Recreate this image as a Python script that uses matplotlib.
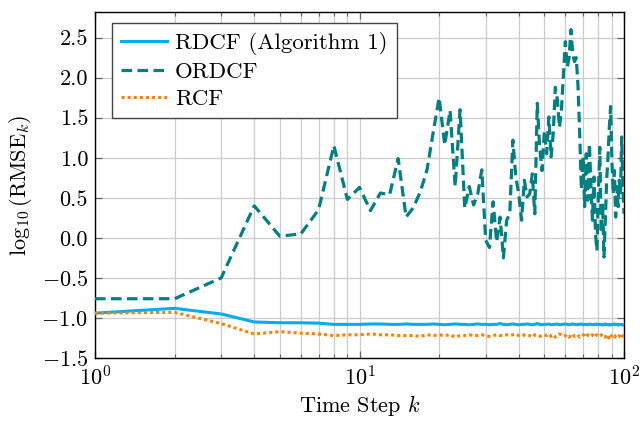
import numpy as np
import matplotlib
matplotlib.use("Agg")
import matplotlib.pyplot as plt

plt.rcParams['font.family'] = ['cmr10', 'DejaVu Serif']
plt.rcParams['mathtext.fontset'] = 'cm'
plt.rcParams['axes.formatter.use_mathtext'] = True
plt.rcParams['axes.unicode_minus'] = True

steps = np.arange(1, 101)

ordcf = [
    -0.76, -0.76, -0.50, 0.40, 0.02, 0.05, 0.35, 1.15, 0.48, 0.63,
    0.34, 0.56, 0.54, 0.99, 0.26, 0.38, 0.58, 0.85, 1.32, 1.75,
    1.16, 1.59, 0.64, 1.60, 0.37, 0.64, 0.41, 0.55, 0.85, -0.03,
    -0.12, 0.45, -0.05, 0.26, -0.25, 0.22, 0.30, 1.22, 0.76, 0.55,
    0.22, 0.72, 0.51, 0.55, 0.80, 0.30, 1.68, 1.13, 0.84, 1.34,
    1.05, 1.51, 1.01, 1.30, 1.88, 1.72, 1.38, 1.60, 2.03, 2.45,
    2.13, 2.25, 2.60, 2.30, 2.20, 2.25, 1.90, 1.30, 0.60, 1.01,
    0.39, 1.05, 0.47, 1.18, 0.64, 0.22, 0.76, 0.06, -0.16, 0.55,
    1.13, 0.06, 0.43, -0.24, 0.22, 0.72, 1.01, 1.38, 1.64, 0.97,
    0.55, 0.84, 0.26, 0.64, 0.39, 0.72, 0.55, 1.26, 0.64, 0.30,
]

rdcf = [
    -0.94, -0.88, -0.95, -1.05, -1.06, -1.06, -1.065, -1.08, -1.08, -1.08,
    -1.075, -1.075, -1.08, -1.08, -1.075, -1.08, -1.08, -1.08, -1.075, -1.08,
    -1.085, -1.08, -1.075, -1.08, -1.08, -1.085, -1.08, -1.075, -1.08, -1.08,
    -1.085, -1.08, -1.08, -1.07, -1.08, -1.085, -1.08, -1.075, -1.08, -1.085,
    -1.08, -1.08, -1.075, -1.08, -1.085, -1.08, -1.07, -1.08, -1.085, -1.08,
    -1.08, -1.075, -1.085, -1.08, -1.08, -1.075, -1.085, -1.08, -1.08, -1.075,
    -1.08, -1.085, -1.08, -1.075, -1.08, -1.085, -1.08, -1.08, -1.075, -1.085,
    -1.08, -1.08, -1.085, -1.075, -1.08, -1.085, -1.08, -1.08, -1.075, -1.085,
    -1.08, -1.08, -1.09, -1.08, -1.075, -1.085, -1.08, -1.09, -1.08, -1.085,
    -1.08, -1.075, -1.085, -1.08, -1.09, -1.08, -1.085, -1.08, -1.09, -1.085,
]

rcf = [
    -0.94, -0.93, -1.07, -1.20, -1.17, -1.19, -1.20, -1.22, -1.21, -1.21,
    -1.20, -1.21, -1.21, -1.22, -1.22, -1.22, -1.23, -1.21, -1.22, -1.21,
    -1.22, -1.21, -1.24, -1.22, -1.22, -1.21, -1.22, -1.22, -1.21, -1.22,
    -1.23, -1.22, -1.21, -1.22, -1.22, -1.21, -1.22, -1.21, -1.20, -1.22,
    -1.23, -1.21, -1.22, -1.22, -1.24, -1.21, -1.22, -1.23, -1.22, -1.21,
    -1.22, -1.20, -1.23, -1.21, -1.24, -1.22, -1.20, -1.21, -1.23, -1.22,
    -1.21, -1.24, -1.22, -1.20, -1.23, -1.22, -1.21, -1.24, -1.22, -1.21,
    -1.22, -1.24, -1.21, -1.23, -1.22, -1.21, -1.24, -1.22, -1.21, -1.23,
    -1.22, -1.21, -1.23, -1.22, -1.24, -1.21, -1.22, -1.27, -1.23, -1.22,
    -1.21, -1.24, -1.22, -1.21, -1.23, -1.22, -1.24, -1.21, -1.23, -1.22,
]

FS = 16
LFS = 16.5

fig = plt.figure(figsize=(6.4, 4.21), dpi=100)
ax = fig.add_axes([95/640, 1-358/421, (624-95)/640, (358-12)/421])

ax.plot(steps, rdcf, color='#00AEEF', lw=2.2, label='RDCF (Algorithm 1)', zorder=3)
ax.plot(steps, ordcf, color='#008080', lw=2.3, ls=(0, (3.3, 1.7)), label='ORDCF', zorder=3)
ax.plot(steps, rcf, color='#FF8000', lw=2.2, ls=(0, (1, 1)), label='RCF', zorder=3)

ax.set_xscale('log')
ax.set_xlim(1, 100)
ax.set_ylim(-1.5, 2.82)
ax.set_yticks([-1.5, -1.0, -0.5, 0.0, 0.5, 1.0, 1.5, 2.0, 2.5])
ax.yaxis.set_major_formatter(matplotlib.ticker.FuncFormatter(
    lambda v, p: ('$-$' if v < 0 else '') + f'{abs(v):.1f}'))

ax.grid(True, which='major', color='#cccccc', lw=0.9, zorder=0)
ax.grid(True, which='minor', axis='x', color='#cccccc', lw=0.9, zorder=0)
ax.set_axisbelow(True)

ax.tick_params(which='both', direction='in', top=True, right=True,
               color='#666666', labelsize=FS, labelcolor='black')
ax.tick_params(which='major', length=5, width=0.9, pad=5)
ax.tick_params(which='minor', length=3, width=0.8)
ax.xaxis.set_minor_formatter(matplotlib.ticker.NullFormatter())

for s in ax.spines.values():
    s.set_linewidth(1.0)
    s.set_color('black')

ax.set_xlabel('Time Step $k$', fontsize=FS, labelpad=3)
ax.set_ylabel(r'$\log_{10}(\mathrm{RMSE}_k)$', fontsize=FS, labelpad=5)

leg = ax.legend(loc='upper left', bbox_to_anchor=(0.032, 0.968), fontsize=LFS,
                frameon=True, fancybox=False, framealpha=1, edgecolor='#444444',
                handlelength=2.0, handletextpad=0.35, borderpad=0.4, labelspacing=0.3,
                borderaxespad=0.0)
leg.get_frame().set_linewidth(1.0)

fig.savefig('out.png', dpi=100)
